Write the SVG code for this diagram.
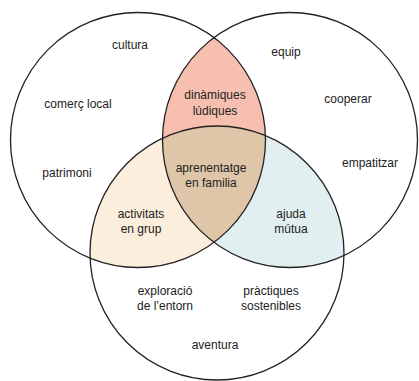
<svg xmlns="http://www.w3.org/2000/svg" width="419" height="381" viewBox="0 0 419 381">
<style>
.ring{fill:none;stroke:#222;stroke-width:1.3}
text{font-family:"Liberation Sans",Arial,sans-serif;font-size:12px;fill:#222;text-anchor:middle}
</style>
<defs>
<clipPath id="cL"><circle cx="138" cy="140" r="127.5"/></clipPath>
<clipPath id="cR"><circle cx="290" cy="140" r="127.5"/></clipPath>
</defs>
<rect width="419" height="381" fill="#fff"/>
<g id="fills">
<circle cx="290" cy="140" r="127.5" fill="#f7bfb0" clip-path="url(#cL)"/>
<circle cx="217" cy="253" r="127" fill="#fbeedc" clip-path="url(#cL)"/>
<circle cx="217" cy="253" r="127" fill="#e1eff1" clip-path="url(#cR)"/>
<g clip-path="url(#cL)"><circle cx="217" cy="253" r="127" fill="#dfc6a9" clip-path="url(#cR)"/></g>
</g>
<g id="circles">
<circle id="left" class="ring" cx="138" cy="140" r="127.5"/>
<circle id="right" class="ring" cx="290" cy="140" r="127.5"/>
<circle id="bottom" class="ring" cx="217" cy="253" r="127"/>
</g>
<g id="labels">
<text x="130" y="49">cultura</text>
<text x="78" y="108">comerç local</text>
<text x="67" y="177">patrimoni</text>
<text x="215" y="99">dinàmiques</text>
<text x="215" y="115">lúdiques</text>
<text x="286" y="56">equip</text>
<text x="348" y="103">cooperar</text>
<text x="370" y="167">empatitzar</text>
<text x="211" y="172">aprenentatge</text>
<text x="211" y="187">en familia</text>
<text x="141" y="218">activitats</text>
<text x="141" y="233">en grup</text>
<text x="291" y="218">ajuda</text>
<text x="291" y="233">mútua</text>
<text x="165" y="295">exploració</text>
<text x="165" y="310">de l’entorn</text>
<text x="271" y="295">pràctiques</text>
<text x="271" y="310">sostenibles</text>
<text x="215" y="349">aventura</text>
</g>
</svg>
